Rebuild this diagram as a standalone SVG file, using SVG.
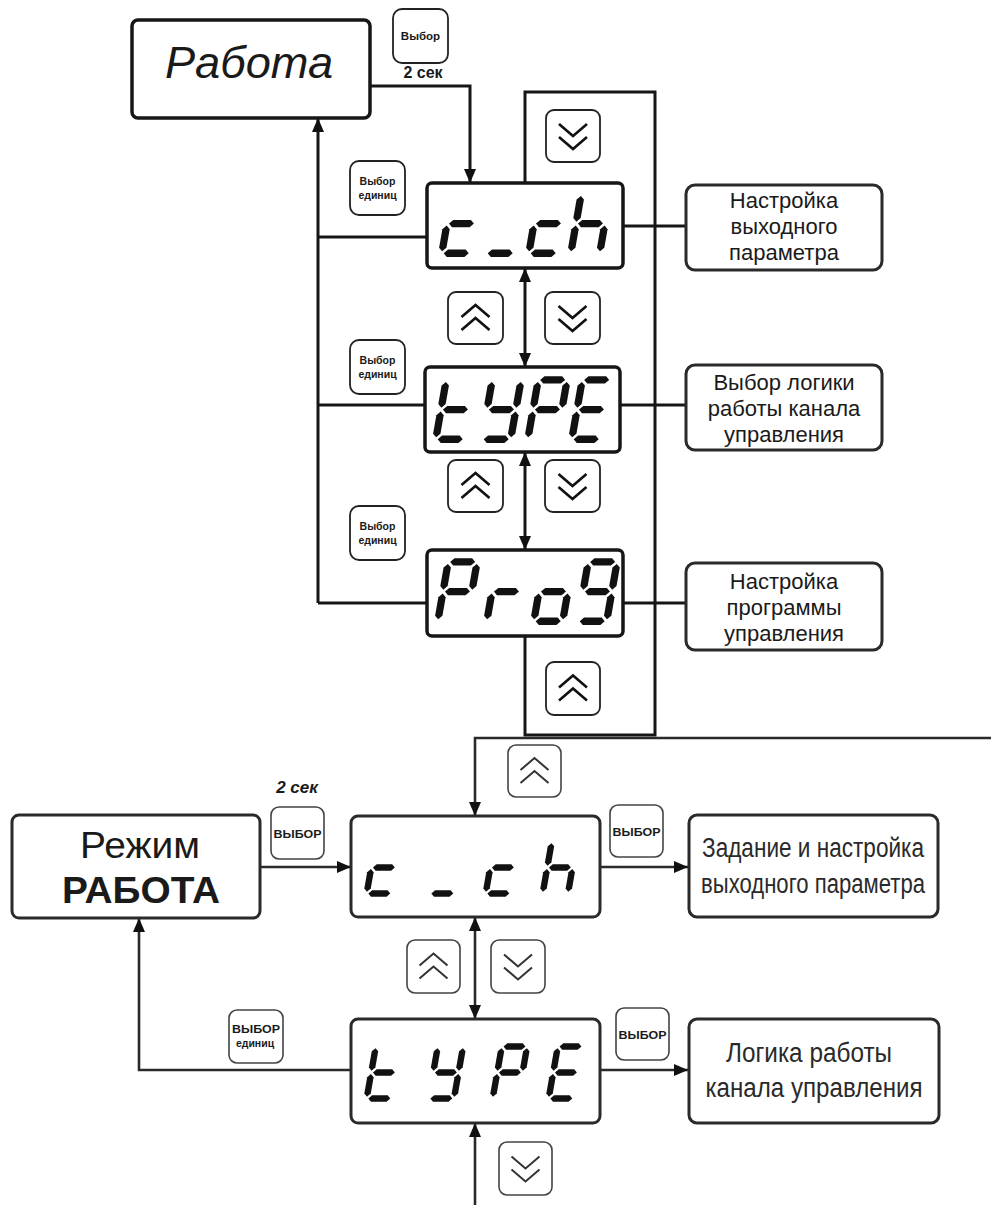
<svg xmlns="http://www.w3.org/2000/svg" xmlns:xlink="http://www.w3.org/1999/xlink" width="991" height="1205" viewBox="0 0 991 1205">
<style>
.box{fill:#fff;stroke:#161616;stroke-width:3.5}
.box2{fill:#fff;stroke:#2a2a2a;stroke-width:3}
.btn{fill:#fff;stroke:#222;stroke-width:1.8}
.btn2{fill:#fff;stroke:#444;stroke-width:1.6}
.ln{fill:none;stroke:#161616;stroke-width:3}
.ln2{fill:none;stroke:#2a2a2a;stroke-width:2.6}
.chev{fill:none;stroke:#111;stroke-width:2.6;stroke-linejoin:miter}
.chev2{fill:none;stroke:#333;stroke-width:2;stroke-linejoin:miter}
.seg{fill:#111}
.t{font-family:"Liberation Sans",Arial,sans-serif;fill:#1a1a1a}
.bt{font-family:"Liberation Sans",Arial,sans-serif;font-weight:bold;fill:#1a1a1a;text-anchor:middle}
.lbl{font-family:"Liberation Sans",Arial,sans-serif;font-size:22px;fill:#1a1a1a;text-anchor:middle}
.lbl2{font-family:"Liberation Sans",Arial,sans-serif;font-size:27px;fill:#2a2a2a;text-anchor:middle}
</style>
<defs>
<marker id="ah" viewBox="0 0 14 12" refX="14" refY="6" markerWidth="14" markerHeight="12" orient="auto-start-reverse" markerUnits="userSpaceOnUse"><path d="M0,0 L14,6 L0,12 z" fill="#111"/></marker>
<polygon id="sh" points="-11.9,0 -8.4,-3.5 8.4,-3.5 11.9,0 8.4,3.5 -8.4,3.5"/>
<polygon id="sv" points="0,-12.3 3.5,-8.8 3.5,8.8 0,12.3 -3.5,8.8 -3.5,-8.8"/>
<g id="g-c" class="seg"><use xlink:href="#sh" x="17.5" y="32"/><use xlink:href="#sv" x="3.75" y="46.1"/><use xlink:href="#sh" x="17.5" y="60.25"/></g>
<g id="g-u" class="seg"><use xlink:href="#sh" x="17.5" y="60.25"/></g>
<g id="g-h" class="seg"><use xlink:href="#sv" x="3.75" y="17.9"/><use xlink:href="#sv" x="3.75" y="46.1"/><use xlink:href="#sh" x="17.5" y="32"/><use xlink:href="#sv" x="31.25" y="46.1"/></g>
<g id="g-t" class="seg"><use xlink:href="#sv" x="3.75" y="17.9"/><use xlink:href="#sv" x="3.75" y="46.1"/><use xlink:href="#sh" x="17.5" y="32"/><use xlink:href="#sh" x="17.5" y="60.25"/></g>
<g id="g-Y" class="seg"><use xlink:href="#sv" x="3.75" y="17.9"/><use xlink:href="#sv" x="31.25" y="17.9"/><use xlink:href="#sh" x="17.5" y="32"/><use xlink:href="#sv" x="31.25" y="46.1"/><use xlink:href="#sh" x="17.5" y="60.25"/></g>
<g id="g-P" class="seg"><use xlink:href="#sh" x="17.5" y="3.75"/><use xlink:href="#sv" x="3.75" y="17.9"/><use xlink:href="#sv" x="31.25" y="17.9"/><use xlink:href="#sh" x="17.5" y="32"/><use xlink:href="#sv" x="3.75" y="46.1"/></g>
<g id="g-E" class="seg"><use xlink:href="#sh" x="17.5" y="3.75"/><use xlink:href="#sv" x="3.75" y="17.9"/><use xlink:href="#sh" x="17.5" y="32"/><use xlink:href="#sv" x="3.75" y="46.1"/><use xlink:href="#sh" x="17.5" y="60.25"/></g>
<g id="g-r" class="seg"><use xlink:href="#sh" x="17.5" y="32"/><use xlink:href="#sv" x="3.75" y="46.1"/></g>
<g id="g-o" class="seg"><use xlink:href="#sh" x="17.5" y="32"/><use xlink:href="#sv" x="3.75" y="46.1"/><use xlink:href="#sv" x="31.25" y="46.1"/><use xlink:href="#sh" x="17.5" y="60.25"/></g>
<g id="g-9" class="seg"><use xlink:href="#sh" x="17.5" y="3.75"/><use xlink:href="#sv" x="3.75" y="17.9"/><use xlink:href="#sv" x="31.25" y="17.9"/><use xlink:href="#sh" x="17.5" y="32"/><use xlink:href="#sv" x="31.25" y="46.1"/><use xlink:href="#sh" x="17.5" y="60.25"/></g>
<g id="up"><polyline points="-14,-1 0,-13 14,-1"/><polyline points="-14,12 0,0 14,12"/></g>
<g id="dn"><polyline points="-14,1 0,13 14,1"/><polyline points="-14,-12 0,0 14,-12"/></g>
</defs>

<g id="connectors">
<path class="ln" d="M370,86 H470 V183" marker-end="url(#ah)"/>
<path class="ln" d="M318,603 V118" marker-end="url(#ah)"/>
<path class="ln" d="M427,237 H318 M425,405 H318 M427,603 H318"/>
<path class="ln" d="M525,183 V92 H655 V735 H525 V636"/>
<path class="ln" d="M525,268 V367" marker-start="url(#ah)" marker-end="url(#ah)"/>
<path class="ln" d="M525,452 V550" marker-start="url(#ah)" marker-end="url(#ah)"/>
<path class="ln" d="M623,226 H686 M620,405 H686 M623,603 H686"/>
<path class="ln2" d="M991,738 H475 V816" marker-end="url(#ah)"/>
<path class="ln2" d="M260,867 H351" marker-end="url(#ah)"/>
<path class="ln2" d="M600,867 H688" marker-end="url(#ah)"/>
<path class="ln2" d="M475,917 V1019" marker-start="url(#ah)" marker-end="url(#ah)"/>
<path class="ln2" d="M351,1070 H139 V918" marker-end="url(#ah)"/>
<path class="ln2" d="M600,1070 H688" marker-end="url(#ah)"/>
<path class="ln2" d="M475,1205 V1123" marker-end="url(#ah)"/>
</g>

<g id="rabota">
<rect class="box" x="132" y="20" width="238" height="98" rx="6"/>
<text class="t" x="165" y="78" font-size="45" font-style="italic" textLength="168" lengthAdjust="spacingAndGlyphs">Работа</text>
</g>
<g id="btn-vybor-top">
<rect class="btn" x="393" y="9" width="55" height="54" rx="9"/>
<text class="bt" x="420.5" y="40" font-size="11.5">Выбор</text>
<text class="bt" x="423" y="78" font-size="16">2 сек</text>
</g>

<g id="disp-cch">
<rect class="box" x="427" y="183" width="196" height="85" rx="5"/>
<use xlink:href="#g-c" transform="translate(449,190) scale(1.05) skewX(-10)"/>
<use xlink:href="#g-u" transform="translate(493,190) scale(1.05) skewX(-10)"/>
<use xlink:href="#g-c" transform="translate(536,190) scale(1.05) skewX(-10)"/>
<use xlink:href="#g-h" transform="translate(578,190) scale(1.05) skewX(-10)"/>
</g>
<g id="disp-type">
<rect class="box" x="425" y="367" width="195" height="85" rx="5"/>
<use xlink:href="#g-t" transform="translate(443,376) scale(1.05) skewX(-10)"/>
<use xlink:href="#g-Y" transform="translate(489,376) scale(1.05) skewX(-10)"/>
<use xlink:href="#g-P" transform="translate(535,376) scale(1.05) skewX(-10)"/>
<use xlink:href="#g-E" transform="translate(579,376) scale(1.05) skewX(-10)"/>
</g>
<g id="disp-prog">
<rect class="box" x="427" y="550" width="196" height="86" rx="5"/>
<use xlink:href="#g-P" transform="translate(445,558) scale(1.05) skewX(-10)"/>
<use xlink:href="#g-r" transform="translate(494,558) scale(1.05) skewX(-10)"/>
<use xlink:href="#g-o" transform="translate(541,558) scale(1.05) skewX(-10)"/>
<use xlink:href="#g-9" transform="translate(585,558) scale(1.05) skewX(-10)"/>
</g>

<g id="btn-down-1"><rect class="btn" x="546" y="110" width="54" height="52" rx="8"/><use xlink:href="#dn" class="chev" transform="translate(573,136)"/></g>
<g id="btn-edin-1"><rect class="btn" x="350" y="161" width="55" height="54" rx="9"/><text class="bt" x="377.5" y="185" font-size="10.5">Выбор</text><text class="bt" x="377.5" y="199" font-size="10.5">единиц</text></g>
<g id="btn-up-2"><rect class="btn" x="448" y="292" width="55" height="52" rx="8"/><use xlink:href="#up" class="chev" transform="translate(475.5,318)"/></g>
<g id="btn-down-2"><rect class="btn" x="545" y="292" width="55" height="52" rx="8"/><use xlink:href="#dn" class="chev" transform="translate(572.5,318)"/></g>
<g id="btn-edin-2"><rect class="btn" x="350" y="340" width="55" height="54" rx="9"/><text class="bt" x="377.5" y="364" font-size="10.5">Выбор</text><text class="bt" x="377.5" y="378" font-size="10.5">единиц</text></g>
<g id="btn-up-3"><rect class="btn" x="448" y="460" width="55" height="52" rx="8"/><use xlink:href="#up" class="chev" transform="translate(475.5,486)"/></g>
<g id="btn-down-3"><rect class="btn" x="545" y="460" width="55" height="52" rx="8"/><use xlink:href="#dn" class="chev" transform="translate(572.5,486)"/></g>
<g id="btn-edin-3"><rect class="btn" x="350" y="506" width="55" height="54" rx="9"/><text class="bt" x="377.5" y="530" font-size="10.5">Выбор</text><text class="bt" x="377.5" y="544" font-size="10.5">единиц</text></g>
<g id="btn-up-4"><rect class="btn" x="546" y="662" width="54" height="53" rx="8"/><use xlink:href="#up" class="chev" transform="translate(573,688.5)"/></g>

<g id="lbl-out"><rect class="box2" x="686" y="185" width="196" height="85" rx="9"/><text class="lbl" x="784" y="208">Настройка</text><text class="lbl" x="784" y="234">выходного</text><text class="lbl" x="784" y="260">параметра</text></g>
<g id="lbl-logic"><rect class="box2" x="686" y="365" width="196" height="85" rx="9"/><text class="lbl" x="784" y="390">Выбор логики</text><text class="lbl" x="784" y="416">работы канала</text><text class="lbl" x="784" y="442">управления</text></g>
<g id="lbl-prog"><rect class="box2" x="686" y="563" width="196" height="87" rx="9"/><text class="lbl" x="784" y="589">Настройка</text><text class="lbl" x="784" y="615">программы</text><text class="lbl" x="784" y="641">управления</text></g>

<g id="rezhim">
<rect class="box2" x="12" y="815" width="248" height="103" rx="7"/>
<text class="t" x="140" y="858" font-size="36" text-anchor="middle" textLength="120" lengthAdjust="spacingAndGlyphs">Режим</text>
<text class="t" x="141" y="903" font-size="37" font-weight="bold" text-anchor="middle" textLength="158" lengthAdjust="spacingAndGlyphs">РАБОТА</text>
</g>
<g id="btn-vybor-b1">
<text class="bt" x="297" y="793" font-size="17" font-style="italic">2 сек</text>
<rect class="btn2" x="271" y="807" width="53" height="52" rx="8"/>
<text class="bt" x="297.5" y="838" font-size="11" textLength="48" lengthAdjust="spacingAndGlyphs">ВЫБОР</text>
</g>
<g id="btn-up-b"><rect class="btn2" x="508" y="745" width="53" height="52" rx="8"/><use xlink:href="#up" class="chev2" transform="translate(534.5,771)"/></g>
<g id="disp-cch-b">
<rect class="box2" x="351" y="816" width="249" height="101" rx="7"/>
<use xlink:href="#g-c" transform="translate(373,838) scale(0.92) skewX(-10)"/>
<use xlink:href="#g-u" transform="translate(436,838) scale(0.92) skewX(-10)"/>
<use xlink:href="#g-c" transform="translate(492,838) scale(0.92) skewX(-10)"/>
<use xlink:href="#g-h" transform="translate(549,838) scale(0.92) skewX(-10)"/>
</g>
<g id="btn-vybor-b2"><rect class="btn2" x="610" y="805" width="53" height="52" rx="8"/><text class="bt" x="636.5" y="836" font-size="11" textLength="48" lengthAdjust="spacingAndGlyphs">ВЫБОР</text></g>
<g id="lbl-zadanie"><rect class="box2" x="689" y="815" width="249" height="102" rx="8"/><text class="lbl2" x="813" y="857" textLength="222" lengthAdjust="spacingAndGlyphs">Задание и настройка</text><text class="lbl2" x="813" y="893" textLength="224" lengthAdjust="spacingAndGlyphs">выходного параметра</text></g>
<g id="btn-up-b2"><rect class="btn2" x="407" y="940" width="53" height="53" rx="8"/><use xlink:href="#up" class="chev2" transform="translate(433.5,966.5)"/></g>
<g id="btn-down-b2"><rect class="btn2" x="491" y="940" width="54" height="53" rx="8"/><use xlink:href="#dn" class="chev2" transform="translate(518,966.5)"/></g>
<g id="btn-edin-b"><rect class="btn2" x="229" y="1010" width="54" height="53" rx="8"/><text class="bt" x="256" y="1033" font-size="11" textLength="48" lengthAdjust="spacingAndGlyphs">ВЫБОР</text><text class="bt" x="255" y="1047" font-size="10.5">единиц</text></g>
<g id="disp-type-b">
<rect class="box2" x="351" y="1019" width="249" height="104" rx="7"/>
<use xlink:href="#g-t" transform="translate(373,1043) scale(0.92) skewX(-10)"/>
<use xlink:href="#g-Y" transform="translate(435,1043) scale(0.92) skewX(-10)"/>
<use xlink:href="#g-P" transform="translate(499,1043) scale(0.92) skewX(-10)"/>
<use xlink:href="#g-E" transform="translate(555,1043) scale(0.92) skewX(-10)"/>
</g>
<g id="btn-vybor-b3"><rect class="btn2" x="616" y="1008" width="53" height="52" rx="8"/><text class="bt" x="642.5" y="1039" font-size="11" textLength="48" lengthAdjust="spacingAndGlyphs">ВЫБОР</text></g>
<g id="lbl-logika"><rect class="box2" x="689" y="1019" width="250" height="104" rx="8"/><text class="lbl2" x="809" y="1062" textLength="166" lengthAdjust="spacingAndGlyphs">Логика работы</text><text class="lbl2" x="814" y="1097" textLength="217" lengthAdjust="spacingAndGlyphs">канала управления</text></g>
<g id="btn-down-b3"><rect class="btn2" x="499" y="1142" width="53" height="53" rx="8"/><use xlink:href="#dn" class="chev2" transform="translate(525.5,1168.5)"/></g>
</svg>
